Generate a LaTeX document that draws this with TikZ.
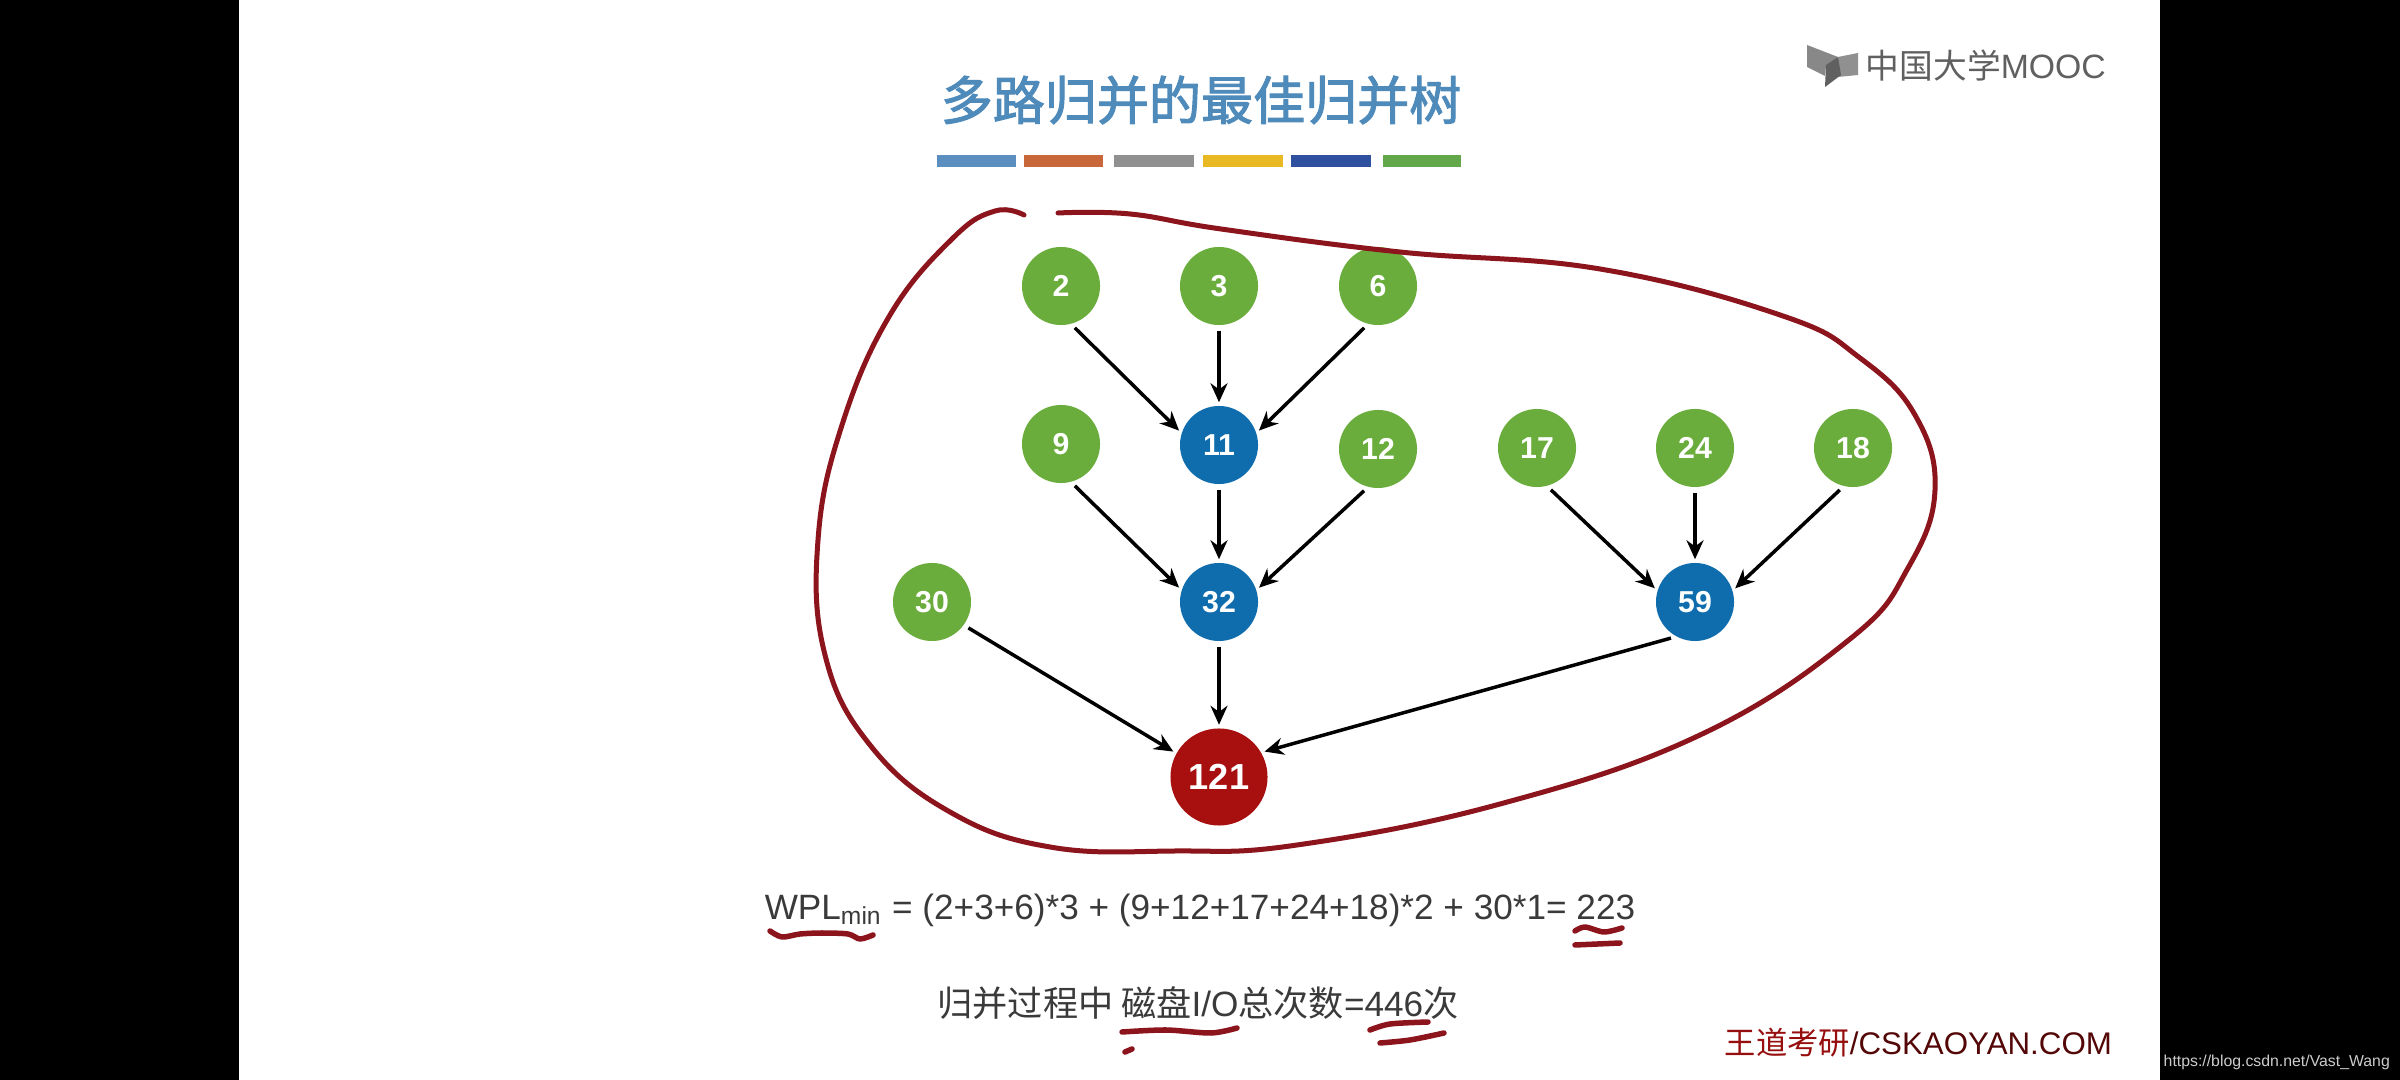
\documentclass[tikz,border=0pt]{standalone}
\usepackage{xcolor}
\usepackage{fontspec}
\setmainfont{Liberation Sans}
\newfontfamily\cjk{Noto Sans CJK SC}
\newfontfamily\cjkhead[FakeBold=2]{Noto Sans CJK SC}
\usepackage{tikz}
\usetikzlibrary{arrows.meta}
\definecolor{leafgreen}{RGB}{106, 173, 61}
\definecolor{mergeblue}{RGB}{15, 109, 174}
\definecolor{rootred}{RGB}{168, 15, 15}
\definecolor{penred}{RGB}{140, 20, 28}
\definecolor{titleblue}{RGB}{78, 138, 186}
\definecolor{inkgray}{RGB}{58, 58, 58}
\definecolor{logogray}{RGB}{96, 96, 96}

\begin{document}
\begin{tikzpicture}[
    x=0.01cm, y=-0.01cm,
    leaf/.style={circle, fill=leafgreen, text=white, inner sep=0pt, minimum size=0.78cm, font=\fontsize{8.6}{10}\selectfont\bfseries},
    merged/.style={circle, fill=mergeblue, text=white, inner sep=0pt, minimum size=0.78cm, font=\fontsize{8.6}{10}\selectfont\bfseries},
    root/.style={circle, fill=rootred, text=white, inner sep=0pt, minimum size=0.97cm, font=\fontsize{10.3}{12}\selectfont\bfseries},
    conn/.style={-{Stealth[length=0.19cm, width=0.17cm]}, line width=0.035cm, black, shorten <=0.05cm, shorten >=0.03cm},
    pen/.style={penred, line width=0.055cm, line cap=round, line join=round},
    caption/.style={inner sep=0pt, text=inkgray, font=\fontsize{10}{12}\selectfont}
]
    \useasboundingbox (0,0) rectangle (2400,1080);

    % slide on black
    \fill[black] (0,0) rectangle (2400,1080);
    \fill[white] (239,0) rectangle (2160,1080);

    % heading
    \node[inner sep=0pt, text=titleblue, font=\fontsize{14.8}{16}\selectfont\cjkhead] (title) at (1201,100) {多路归并的最佳归并树};
    \foreach \xa/\xb/\col in {937/1016/{rgb,255:red,91;green,143;blue,191},
                              1024/1103/{rgb,255:red,200;green,104;blue,58},
                              1114/1194/{rgb,255:red,144;green,144;blue,144},
                              1203/1283/{rgb,255:red,232;green,185;blue,35},
                              1291/1371/{rgb,255:red,47;green,79;blue,159},
                              1383/1461/{rgb,255:red,98;green,168;blue,74}}
        \fill[color=\col] (\xa,155) rectangle (\xb,167);

    % logo
    \fill[logogray!75] (1807,45) -- (1838,57) -- (1826,66) -- (1825,76) -- (1807,67) -- cycle;
    \fill[logogray!70] (1838,57) -- (1858,53) -- (1858,75) -- (1838,77) -- cycle;
    \fill[logogray] (1838,57) -- (1826,65) -- (1825,87) -- (1841,75) -- cycle;
    \node[inner sep=0pt, anchor=west, text=logogray, font=\fontsize{9.6}{11}\selectfont] (logo) at (1865,66) {{\cjk 中国大学}MOOC};

    % leaves and inner nodes
    \node[leaf] (n2) at (1061,286) {2};
    \node[leaf] (n3) at (1219,286) {3};
    \node[leaf] (n6) at (1378,286) {6};
    \node[leaf] (n9) at (1061,444) {9};
    \node[merged] (n11) at (1219,445) {11};
    \node[leaf] (n12) at (1378,449) {12};
    \node[leaf] (n17) at (1537,448) {17};
    \node[leaf] (n24) at (1695,448) {24};
    \node[leaf] (n18) at (1853,448) {18};
    \node[leaf] (n30) at (932,602) {30};
    \node[merged] (n32) at (1219,602) {32};
    \node[merged] (n59) at (1695,602) {59};
    \node[root] (n121) at (1219,777) {121};

    % merge arrows
    \foreach \a/\anga/\b/\angb in {n2/-75/n11/162, n3/-90/n11/90, n6/-105/n11/18,
                                   n9/-75/n32/162, n11/-90/n32/90, n12/-105/n32/18,
                                   n17/-75/n59/163, n24/-90/n59/90, n18/-104/n59/17,
                                   n30/-36/n121/151, n32/-90/n121/90, n59/-119/n121/30}
        \draw[conn] (\a.\anga) -- (\b.\angb);

    % hand-drawn loop
    \draw[pen, line width=0.05cm] plot[smooth, tension=0.7] coordinates {
        (1024,215) (995,211) (953,238) (890,315) (842,425) (818,540) (825,655) (870,745)
        (950,812) (1050,847) (1175,851) (1297,845) (1500,804) (1700,735) (1850,639) (1908,568) (1935,490)
        (1915,415) (1860,358) (1783,316) (1600,269) (1400,252) (1221,229) (1130,214) (1058,213)};

    % formula and disk count
    \node[caption] (wpl) at (1200,910) {WPL\textsubscript{min} = (2+3+6)*3 + (9+12+17+24+18)*2 + 30*1= 223};
    \node[caption] (disk) at (1198,1003) {{\cjk 归并过程中 磁盘}I/O{\cjk 总次数}=446{\cjk 次}};

    % pen marks under the text
    \draw[pen] plot[smooth] coordinates {(770,931) (782,937) (800,934) (822,933) (848,934) (860,939) (873,935)};
    \draw[pen] plot[smooth] coordinates {(1575,931) (1585,927) (1604,932) (1622,928)};
    \draw[pen] plot[smooth] coordinates {(1575,945) (1620,943)};
    \draw[pen] plot[smooth] coordinates {(1122,1032) (1166,1030) (1211,1033) (1237,1028)};
    \draw[pen] (1125,1052) -- (1132,1049);
    \draw[pen] plot[smooth] coordinates {(1370,1030) (1390,1024) (1428,1022)};
    \draw[pen] plot[smooth] coordinates {(1380,1043) (1410,1040) (1444,1033)};

    % watermarks
    \node[inner sep=0pt, anchor=west, font=\fontsize{8.9}{11}\selectfont] (brand) at (1724,1043) {\textcolor{rootred!90!black}{\cjk 王道考研}\textcolor{rootred!50!black}{/CSKAOYAN.COM}};
    \node[inner sep=0pt, anchor=west, text=white!80!black, font=\fontsize{4.5}{6}\selectfont] (url) at (2163,1062) {https://blog.csdn.net/Vast\_Wang};
\end{tikzpicture}
\end{document}
